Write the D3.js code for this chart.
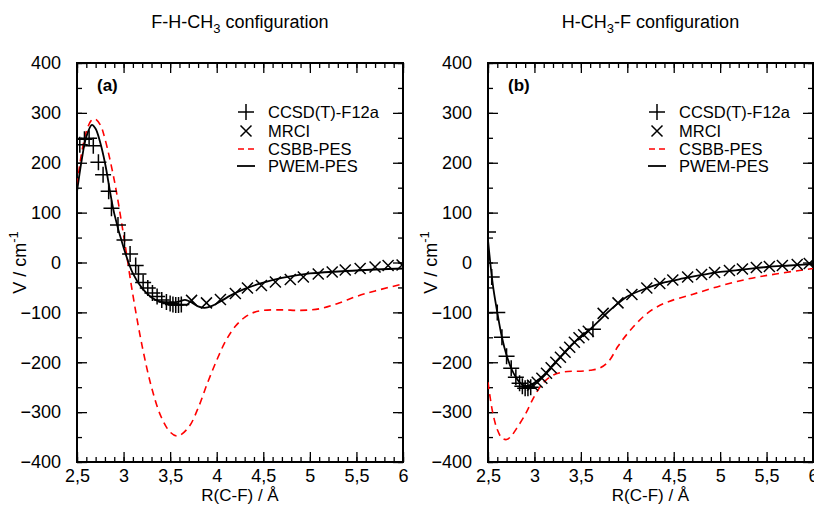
<!DOCTYPE html>
<html>
<head>
<meta charset="utf-8">
<script src="https://cdn.jsdelivr.net/npm/d3@7/dist/d3.min.js"></script>
<style>
  body { margin: 0; background: #fff; }
  text { font-family: "Liberation Sans", Arial, Helvetica, sans-serif; fill: #000; }
</style>
</head>
<body>
<svg id="chart" width="814" height="505"></svg>
<script>
// values (R in Angstrom, V in cm-1)
const xTicks = [2.5, 3, 3.5, 4, 4.5, 5, 5.5, 6];
const yTicks = [-400, -300, -200, -100, 0, 100, 200, 300, 400];

// panel (a): F-H-CH3
const ccsdA = [[2.53, 236], [2.58, 247], [2.63, 249], [2.675, 234], [2.73, 201], [2.78, 176], [2.84, 143],
  [2.87, 109], [2.94, 75], [3.01, 45], [3.07, 17], [3.13, -6], [3.16, -23], [3.21, -40], [3.26, -51],
  [3.31, -61], [3.36, -68], [3.41, -75], [3.46, -79], [3.5, -82], [3.53, -84], [3.56, -85], [3.59, -85], [3.62, -84]];
const mrciA = [[3.73, -76], [3.89, -81], [4.04, -74], [4.2, -62], [4.33, -51], [4.48, -46], [4.63, -39],
  [4.79, -34], [4.93, -29], [5.09, -23], [5.24, -19], [5.38, -15], [5.54, -12], [5.7, -9], [5.84, -6], [5.99, -5]];
const csbbA = [[2.5, 155], [2.55, 220], [2.6, 262], [2.65, 284], [2.69, 288], [2.75, 276], [2.8, 248],
  [2.9, 165], [3.0, 55], [3.1, -65], [3.2, -168], [3.3, -250], [3.4, -308], [3.5, -340], [3.58, -348],
  [3.7, -330], [3.8, -292], [3.9, -242], [4.0, -196], [4.1, -156], [4.2, -128], [4.3, -110], [4.4, -100],
  [4.5, -96], [4.7, -95], [4.9, -96], [5.1, -93], [5.3, -82], [5.5, -68], [5.7, -57], [6.0, -43]];
const pwemA = [[2.5, 142], [2.55, 205], [2.6, 252], [2.66, 276], [2.7, 268], [2.75, 240], [2.8, 200],
  [2.9, 98], [3.0, 30], [3.1, -22], [3.2, -52], [3.3, -70], [3.4, -79], [3.5, -81], [3.6, -78],
  [3.66, -75], [3.72, -79], [3.8, -88], [3.87, -91], [3.95, -87], [4.05, -77], [4.15, -66], [4.3, -53],
  [4.47, -42], [4.7, -31], [5.0, -22], [5.5, -16], [6.0, -12]];

// panel (b): H-CH3-F
const ccsdB = [[2.5, 61], [2.54, -29], [2.6, -100], [2.65, -150], [2.7, -188], [2.75, -212], [2.8, -230],
  [2.84, -242], [2.87, -248], [2.9, -252], [2.93, -252], [2.96, -250], [3.63, -134]];
const mrciB = [[2.98, -246], [3.03, -240], [3.08, -232], [3.13, -222], [3.18, -211], [3.23, -200],
  [3.28, -190], [3.33, -180], [3.38, -170], [3.43, -160], [3.48, -151], [3.53, -145], [3.58, -138],
  [3.74, -102], [3.9, -81], [4.05, -64], [4.21, -51], [4.35, -42], [4.49, -35], [4.65, -29], [4.8, -24],
  [4.94, -20], [5.1, -16], [5.24, -13], [5.39, -10], [5.53, -8], [5.67, -6], [5.83, -4], [5.96, -2]];
const csbbB = [[2.5, -240], [2.55, -300], [2.6, -335], [2.65, -352], [2.7, -355], [2.75, -348],
  [2.8, -335], [2.9, -305], [3.0, -268], [3.1, -240], [3.2, -226], [3.3, -220], [3.4, -218], [3.5, -218],
  [3.6, -216], [3.7, -212], [3.8, -198], [3.9, -168], [4.0, -143], [4.1, -122], [4.2, -104], [4.3, -91],
  [4.45, -78], [4.7, -64], [5.0, -47], [5.3, -33], [5.6, -23], [6.0, -12]];
const pwemB = [[2.5, 45], [2.53, -10], [2.56, -55], [2.6, -100], [2.65, -150], [2.7, -186], [2.75, -212],
  [2.8, -230], [2.85, -242], [2.9, -247], [2.95, -246], [3.0, -241], [3.1, -226], [3.2, -205], [3.3, -185],
  [3.4, -165], [3.5, -149], [3.6, -134], [3.7, -116], [3.8, -98], [3.9, -82], [4.0, -68], [4.2, -52],
  [4.4, -40], [4.6, -32], [4.8, -25], [5.0, -19], [5.25, -14], [5.5, -9], [5.75, -6], [6.0, -3]];

const legendNames = ["CCSD(T)-F12a", "MRCI", "CSBB-PES", "PWEM-PES"];

const svg = d3.select("#chart");
const yTop = 63, yBot = 462;

function panel(opt) {
  const x = d3.scaleLinear().domain([2.5, 6]).range([opt.left, opt.right]);
  const y = d3.scaleLinear().domain([-400, 400]).range([yBot, yTop]);
  const g = svg.append("g");

  const clipId = "clip" + opt.tag;
  svg.append("clipPath").attr("id", clipId)
    .append("rect").attr("x", opt.left).attr("y", yTop)
    .attr("width", opt.right - opt.left).attr("height", yBot - yTop);

  // axes with inward ticks, mirrored on top and right
  const xMinor = d3.range(25, 61).map(d => d / 10);
  const yMinor = d3.range(-400, 401, 50);
  const fmt = d => String(d).replace(".", ",");

  const axB = g.append("g").attr("transform", "translate(0," + yBot + ")");
  axB.call(d3.axisBottom(x).tickValues(xMinor).tickSize(-5).tickFormat(""));
  axB.append("g").call(d3.axisBottom(x).tickValues(xTicks).tickSize(-10).tickPadding(14).tickFormat(fmt));
  const axT = g.append("g").attr("transform", "translate(0," + yTop + ")");
  axT.call(d3.axisTop(x).tickValues(xMinor).tickSize(-5).tickFormat(""));
  axT.append("g").call(d3.axisTop(x).tickValues(xTicks).tickSize(-10).tickFormat(""));

  const axL = g.append("g").attr("transform", "translate(" + opt.left + ",0)");
  axL.call(d3.axisLeft(y).tickValues(yMinor).tickSize(-5).tickFormat(""));
  axL.append("g").call(d3.axisLeft(y).tickValues(yTicks).tickSize(-10).tickPadding(16));
  const axR = g.append("g").attr("transform", "translate(" + opt.right + ",0)");
  axR.call(d3.axisRight(y).tickValues(yMinor).tickSize(-5).tickFormat(""));
  axR.append("g").call(d3.axisRight(y).tickValues(yTicks).tickSize(-10).tickFormat(""));

  g.selectAll(".domain").remove();
  g.selectAll(".tick line").attr("stroke", "#000").attr("stroke-width", 1.3);
  g.selectAll(".tick text").style("font-size", "18px").attr("fill", "#000");
  axB.selectAll(".tick text").attr("dy", "0.35em");

  g.append("rect").attr("x", opt.left).attr("y", yTop)
    .attr("width", opt.right - opt.left).attr("height", yBot - yTop)
    .attr("fill", "none").attr("stroke", "#000").attr("stroke-width", 2);

  const line = d3.line().x(d => x(d[0])).y(d => y(d[1])).curve(d3.curveCatmullRom.alpha(0.5));
  const plot = g.append("g").attr("clip-path", "url(#" + clipId + ")");

  plot.append("path").datum(opt.csbb).attr("d", line)
    .attr("fill", "none").attr("stroke", "#ff0000").attr("stroke-width", 1.6)
    .attr("stroke-dasharray", "7,5");
  plot.append("path").datum(opt.pwem).attr("d", line)
    .attr("fill", "none").attr("stroke", "#000").attr("stroke-width", 1.8);

  const plus = "M-8,0H8M0,-8V8", cross = "M-5.5,-5.5L5.5,5.5M-5.5,5.5L5.5,-5.5";
  plot.selectAll(".ccsd").data(opt.ccsd).enter().append("path").attr("class", "ccsd")
    .attr("d", plus).attr("transform", d => "translate(" + x(d[0]) + "," + y(d[1]) + ")")
    .attr("stroke", "#000").attr("stroke-width", 1.5).attr("fill", "none");
  plot.selectAll(".mrci").data(opt.mrci).enter().append("path").attr("class", "mrci")
    .attr("d", cross).attr("transform", d => "translate(" + x(d[0]) + "," + y(d[1]) + ")")
    .attr("stroke", "#000").attr("stroke-width", 1.5).attr("fill", "none");

  // panel letter
  g.append("text").attr("x", opt.left + 20).attr("y", 91)
    .style("font-size", "17px").style("font-weight", "bold").text(opt.letter);

  // legend
  const lx = opt.left + 169, ly = [112, 131, 149, 166];
  const leg = g.append("g");
  leg.append("path").attr("d", plus).attr("transform", "translate(" + lx + "," + ly[0] + ")")
    .attr("stroke", "#000").attr("stroke-width", 1.5);
  leg.append("path").attr("d", cross).attr("transform", "translate(" + lx + "," + ly[1] + ")")
    .attr("stroke", "#000").attr("stroke-width", 1.5);
  leg.append("line").attr("x1", lx - 8).attr("x2", lx + 9).attr("y1", ly[2]).attr("y2", ly[2])
    .attr("stroke", "#ff0000").attr("stroke-width", 1.6).attr("stroke-dasharray", "6,4");
  leg.append("line").attr("x1", lx - 9).attr("x2", lx + 9).attr("y1", ly[3]).attr("y2", ly[3])
    .attr("stroke", "#000").attr("stroke-width", 1.8);
  leg.selectAll("text").data(legendNames).enter().append("text")
    .attr("x", lx + 22).attr("y", (d, i) => ly[i]).attr("dy", "0.35em")
    .style("font-size", "16.5px").text(d => d);

  // titles and axis labels
  const cx = (opt.left + opt.right) / 2;
  const t = svg.append("text").attr("x", cx).attr("y", 28).attr("text-anchor", "middle")
    .style("font-size", "18px");
  opt.title.forEach(p => {
    const s = t.append("tspan").text(p.t);
    if (p.sub) s.attr("dy", 5).style("font-size", "13px");
    if (p.after) s.attr("dy", -5);
  });

  svg.append("text").attr("x", cx).attr("y", 501).attr("text-anchor", "middle")
    .style("font-size", "17px").text("R(C-F) / \u00c5");

  const yl = svg.append("text")
    .attr("transform", "translate(" + (opt.left - 51) + "," + ((yTop + yBot) / 2) + ") rotate(-90)")
    .attr("text-anchor", "middle").style("font-size", "18px");
  yl.append("tspan").text("V / cm");
  yl.append("tspan").attr("dy", -8).style("font-size", "13px").text("-1");
}

panel({
  tag: "a", left: 77, right: 403, letter: "(a)",
  ccsd: ccsdA, mrci: mrciA, csbb: csbbA, pwem: pwemA,
  title: [{ t: "F-H-CH" }, { t: "3", sub: true }, { t: " configuration", after: true }]
});
panel({
  tag: "b", left: 488, right: 813, letter: "(b)",
  ccsd: ccsdB, mrci: mrciB, csbb: csbbB, pwem: pwemB,
  title: [{ t: "H-CH" }, { t: "3", sub: true }, { t: "-F configuration", after: true }]
});
</script>
</body>
</html>
